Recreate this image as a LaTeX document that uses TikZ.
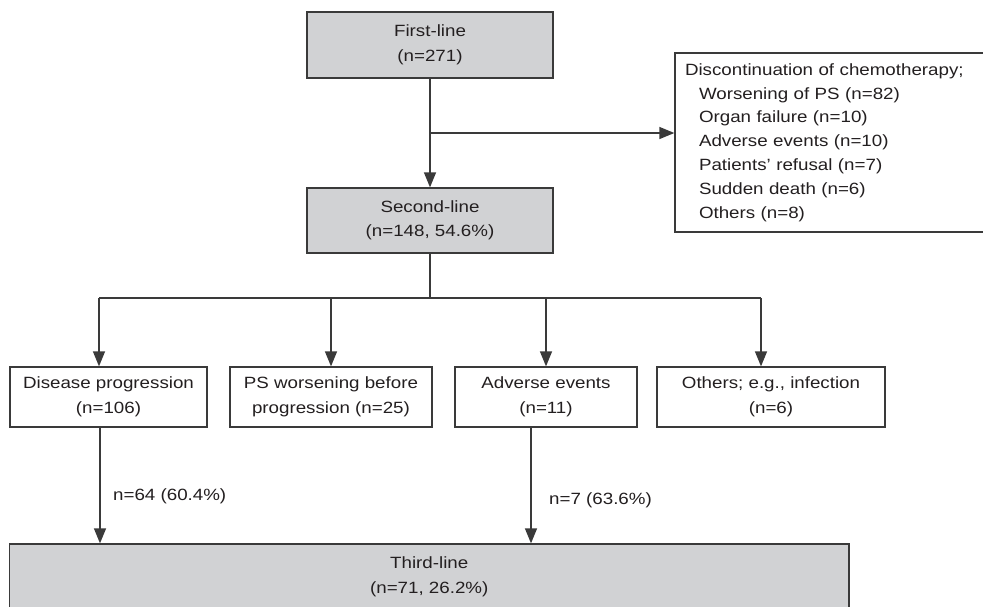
\documentclass[tikz,border=0pt]{standalone}
\usepackage{fontspec}
\setmainfont[FakeStretch=1.15]{Liberation Sans}
\usetikzlibrary{arrows.meta}
\definecolor{boxgray}{HTML}{D1D2D4}
\definecolor{linegray}{HTML}{3A3A3A}
\definecolor{textgray}{HTML}{231F20}
\begin{document}
\begin{tikzpicture}[x=1pt,y=-1pt,
  every node/.style={font=\fontsize{16.3}{24.5}\selectfont, text=textgray},
  box/.style={draw=linegray, line width=1.3pt, rectangle, inner sep=0pt, align=center},
  graybox/.style={box, fill=boxgray},
  whitebox/.style={box, fill=white},
  conn/.style={draw=linegray, line width=1.3pt},
  arr/.style={conn, -{Triangle[length=15pt,width=12pt]}},
  lbl/.style={anchor=west, inner sep=0pt}]
\clip (0,0) rectangle (983,606);
\fill[white] (0,0) rectangle (983,606);

\node[graybox, minimum width=246pt, minimum height=66pt] (first) at (430,45) {First-line\\(n=271)};
\node[graybox, minimum width=246pt, minimum height=65pt] (second) at (430,220.5) {Second-line\\(n=148, 54.6\%)};
\node[whitebox, minimum width=320pt, minimum height=179pt, text width=300pt, align=left,
  font=\fontsize{16.3}{23.8}\selectfont] (disc) at (835,142.5)
  {Discontinuation of chemotherapy;\\
   \hspace*{14pt}Worsening of PS (n=82)\\
   \hspace*{14pt}Organ failure (n=10)\\
   \hspace*{14pt}Adverse events (n=10)\\
   \hspace*{14pt}Patients’ refusal (n=7)\\
   \hspace*{14pt}Sudden death (n=6)\\
   \hspace*{14pt}Others (n=8)};

\node[whitebox, minimum width=197pt, minimum height=60pt] (b1) at (108.5,397) {Disease progression\\(n=106)};
\node[whitebox, minimum width=202pt, minimum height=60pt] (b2) at (331,397) {PS worsening before\\progression (n=25)};
\node[whitebox, minimum width=182pt, minimum height=60pt] (b3) at (546,397) {Adverse events\\(n=11)};
\node[whitebox, minimum width=228pt, minimum height=60pt] (b4) at (771,397) {Others; e.g., infection\\(n=6)};

\node[graybox, minimum width=839.5pt, minimum height=66pt] (third) at (429.25,577) {Third-line\\(n=71, 26.2\%)};

% first to second, with branch to discontinuation
\coordinate (br) at (430,133);
\draw[arr] (first.south) -- (second.north);
\draw[arr] (br) -- (br -| disc.west);

% second to the four reasons
\coordinate (hub) at (430,298);
\coordinate (h1) at (99,298);
\coordinate (h2) at (331,298);
\coordinate (h3) at (546,298);
\coordinate (h4) at (761,298);
\draw[conn] (second.south) -- (hub);
\draw[conn] (h1) -- (h4);
\draw[arr] (h1) -- (h1 |- b1.north);
\draw[arr] (h2) -- (h2 |- b2.north);
\draw[arr] (h3) -- (h3 |- b3.north);
\draw[arr] (h4) -- (h4 |- b4.north);

% to third-line
\coordinate (d1) at (100,427);
\coordinate (d3) at (531,427);
\draw[arr] (d1) -- (d1 |- third.north);
\draw[arr] (d3) -- (d3 |- third.north);
\node[lbl] (l1) at (113,496) {n=64 (60.4\%)};
\node[lbl] (l3) at (549,500) {n=7 (63.6\%)};
\end{tikzpicture}
\end{document}
